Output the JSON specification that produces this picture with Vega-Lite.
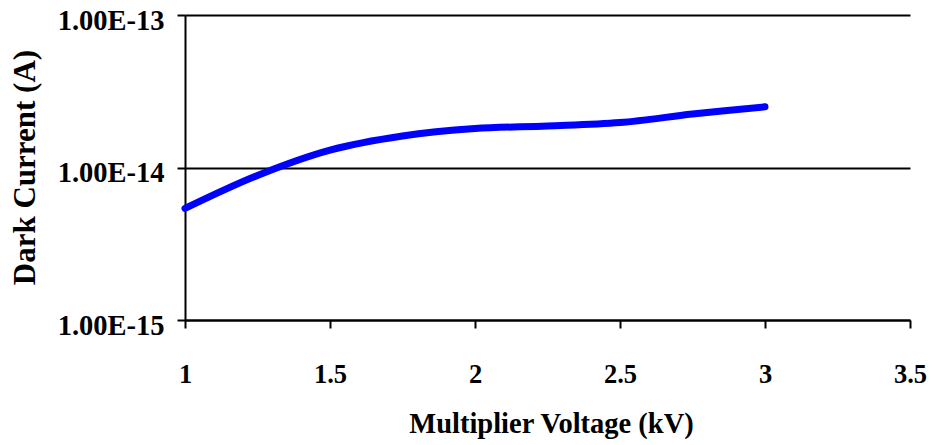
{
  "$schema": "https://vega.github.io/schema/vega-lite/v6.json",
  "width": 725,
  "height": 305,
  "autosize": {"type": "none"},
  "padding": {"left": 185, "top": 15, "right": 22, "bottom": 125},
  "background": "white",
  "config": {
    "view": {"stroke": null},
    "font": "Liberation Serif",
    "axis": {
      "labelFont": "Liberation Serif",
      "titleFont": "Liberation Serif",
      "labelFontWeight": "bold",
      "titleFontWeight": "bold",
      "labelColor": "black",
      "titleColor": "black",
      "domainColor": "black",
      "tickColor": "black",
      "gridColor": "black",
      "domainWidth": 2,
      "tickWidth": 2,
      "gridWidth": 2,
      "gridOpacity": 1,
      "tickSize": 8
    }
  },
  "data": {
    "values": [
      {"v": 1.0, "i": 5.39e-15},
      {"v": 1.25, "i": 8.87e-15},
      {"v": 1.5, "i": 1.30e-14},
      {"v": 1.75, "i": 1.61e-14},
      {"v": 2.0, "i": 1.80e-14},
      {"v": 2.25, "i": 1.87e-14},
      {"v": 2.5, "i": 1.97e-14},
      {"v": 2.75, "i": 2.24e-14},
      {"v": 3.0, "i": 2.50e-14}
    ]
  },
  "mark": {"type": "line", "color": "#0000FF", "strokeWidth": 7, "strokeCap": "round", "interpolate": "catmull-rom", "clip": false},
  "encoding": {
    "x": {
      "field": "v",
      "type": "quantitative",
      "scale": {"domain": [1, 3.5], "nice": false, "zero": false},
      "axis": {
        "title": "Multiplier Voltage (kV)",
        "values": [1, 1.5, 2, 2.5, 3, 3.5],
        "format": "~g",
        "grid": false,
        "labelFontSize": 26.5,
        "titleFontSize": 28.5,
        "labelPadding": 33,
        "labelBaseline": "top",
        "labelFlush": false,
        "titleX": 366,
        "titleY": 112,
        "titleBaseline": "alphabetic"
      }
    },
    "y": {
      "field": "i",
      "type": "quantitative",
      "scale": {"type": "log", "domain": [1e-15, 1e-13], "nice": false},
      "axis": {
        "title": "Dark Current (A)",
        "values": [1e-15, 1e-14, 1e-13],
        "labelExpr": "replace(format(datum.value, '.2e'), 'e', 'E')",
        "grid": true,
        "labelFontSize": 28.5,
        "titleFontSize": 31,
        "labelPadding": 13,
        "labelOffset": 5,
        "labelBaseline": "middle",
        "labelFlush": false,
        "titleX": -151,
        "titleY": 152,
        "titleAngle": 270,
        "titleAlign": "center",
        "titleBaseline": "alphabetic"
      }
    }
  }
}
